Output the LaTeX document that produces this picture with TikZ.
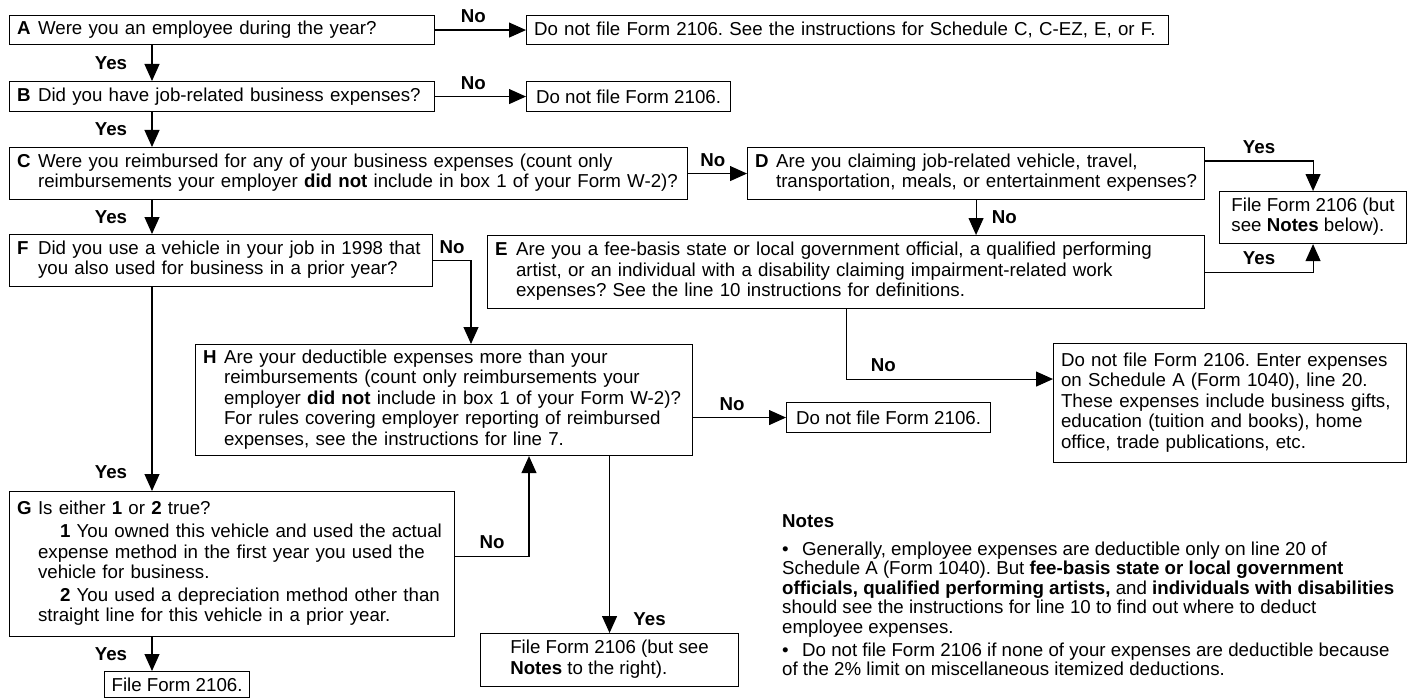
\documentclass[tikz,border=0pt]{standalone}
\usepackage{fontspec}
\setmainfont{Liberation Sans}
\usetikzlibrary{calc,arrows.meta}

\newcommand{\qlet}[1]{\makebox[21pt][l]{\textbf{#1}}}
\newcommand{\qlines}[1]{\begin{tabular}[t]{@{}l@{}}#1\end{tabular}}
\frenchspacing

\begin{document}
\begin{tikzpicture}[x=1pt,y=-1pt]

    \def\qfont{\fontsize{18.7}{20.5}\selectfont}
    \def\nfont{\fontsize{18.7}{19.6}\selectfont}

    \tikzset{
      qbox/.style={draw, line width=1.1pt, anchor=north west, align=left,
        inner xsep=7.5pt, inner ysep=0pt, font=\qfont},
      fbox/.style={draw, line width=1.1pt, anchor=north west, inner sep=0pt, font=\qfont},
      arr/.style={line width=1.1pt, -{Triangle[length=17pt,width=15pt]}},
      lbl/.style={font=\qfont\bfseries}
    }

    \useasboundingbox (0,0) rectangle (1411,698);
    \coordinate (xl) at (152,0);

    \node[qbox, text width=410pt, minimum height=29pt] (A) at (9,15)
      {\qlet{A}Were you an employee during the year?};
    \node[qbox, text width=627pt, minimum height=29pt] (A1) at (526,15)
      {Do not file Form 2106. See the instructions for Schedule C, C-EZ, E, or F.};
    \node[qbox, text width=410pt, minimum height=30pt] (B) at (9,81)
      {\qlet{B}Did you have job-related business expenses?};
    \node[fbox, minimum width=204pt, minimum height=30pt] (B1) at (526,81)
      {Do not file Form 2106.};
    \node[qbox, text width=663pt, minimum height=52pt] (C) at (9,147)
      {\qlet{C}\qlines{Were you reimbursed for any of your business expenses (count only\\
        reimbursements your employer \textbf{did not} include in box 1 of your Form W-2)?}};
    \node[qbox, text width=442pt, minimum height=52pt] (D) at (747,147)
      {\qlet{D}\qlines{Are you claiming job-related vehicle, travel,\\
        transportation, meals, or entertainment expenses?}};
    \node[fbox, minimum width=187pt, minimum height=52pt] (FF1) at (1219,191)
      {\qlines{File Form 2106 (but\\see \textbf{Notes} below).}};
    \node[qbox, text width=408pt, minimum height=52pt] (F) at (9,234)
      {\qlet{F}\qlines{Did you use a vehicle in your job in 1998 that\\
        you also used for business in a prior year?}};
    \node[qbox, text width=702pt, minimum height=73pt] (E) at (487,235)
      {\qlet{E}\qlines{Are you a fee-basis state or local government official, a qualified performing\\
        artist, or an individual with a disability claiming impairment-related work\\
        expenses? See the line 10 instructions for definitions.}};
    \node[qbox, text width=482pt, minimum height=111pt] (H) at (195,344)
      {\qlet{H}\qlines{Are your deductible expenses more than your\\
        reimbursements (count only reimbursements your\\
        employer \textbf{did not} include in box 1 of your Form W-2)?\\
        For rules covering employer reporting of reimbursed\\
        expenses, see the instructions for line 7.}};
    \node[fbox, minimum width=204pt, minimum height=30pt] (H1) at (786,402)
      {Do not file Form 2106.};
    \node[qbox, text width=338pt, minimum height=119pt] (NF) at (1053,343)
      {\qlines{Do not file Form 2106. Enter expenses\\
        on Schedule A (Form 1040), line 20.\\
        These expenses include business gifts,\\
        education (tuition and books), home\\
        office, trade publications, etc.}};
    \node[qbox, text width=430pt, minimum height=145pt] (G) at (9,491)
      {\qlet{G}\qlines{Is either \textbf{1} or \textbf{2} true?\\[3pt]
        \hspace*{22pt}\textbf{1} You owned this vehicle and used the actual\\
        expense method in the first year you used the\\
        vehicle for business.\\[2pt]
        \hspace*{22pt}\textbf{2} You used a depreciation method other than\\
        straight line for this vehicle in a prior year.}};
    \node[fbox, minimum width=258pt, minimum height=53pt] (FF2) at (480,633)
      {\qlines{File Form 2106 (but see\\\textbf{Notes} to the right).}};
    \node[fbox, minimum width=145pt, minimum height=26pt] (FF3) at (104,671)
      {File Form 2106.};

    \node[anchor=base west, inner sep=0pt, font=\nfont] (notes) at (782,527)
      {\qlines{\textbf{Notes}\\[8.5pt]
        \makebox[20pt][l]{•}Generally, employee expenses are deductible only on line 20 of\\
        Schedule A (Form 1040). But \textbf{fee-basis state or local government}\\
        \textbf{officials, qualified performing artists,} and \textbf{individuals with disabilities}\\
        should see the instructions for line 10 to find out where to deduct\\
        employee expenses.\\[3pt]
        \makebox[20pt][l]{•}Do not file Form 2106 if none of your expenses are deductible because\\
        of the 2\% limit on miscellaneous itemized deductions.}};

    \foreach \a/\b in {A/A1, B/B1, C/D}{
      \draw[arr] (\a) -- (\b) node[lbl, pos=.42, above=3pt]{No};
    }
    \foreach \a/\b in {A/B, B/C, C/F, G/FF3}{
      \draw[arr] (\a.south -| xl) -- (\b.north -| xl) node[lbl, midway, left=21pt]{Yes};
    }
    \draw[arr] (F.south -| xl) -- (G.north -| xl) node[lbl, pos=.91, left=21pt]{Yes};

    \draw[arr] ($(D.north east)+(0,14)$) -| (FF1) node[lbl, pos=.25, above=3pt]{Yes};
    \draw[arr] (E) -| (FF1) node[lbl, pos=.25, above=3pt]{Yes};
    \draw[arr] (D.south) -- (D.south |- E.north) node[lbl, midway, right=12pt]{No};
    \draw[arr] (E.south) |- ($(NF.west)+(0,-24)$) node[lbl, pos=.59, above=3pt]{No};
    \draw[arr] (F.east) -| ($(H.north west)+(276,0)$) node[lbl, pos=.25, above=3pt]{No};
    \draw[arr] (H.east |- H1) -- (H1) node[lbl, pos=.42, above=3pt]{No};
    \draw[arr] ($(G.east)+(0,-8)$) -| ($(H.south west)+(334,0)$) node[lbl, pos=.25, above=3pt]{No};
    \draw[arr] (H.south -| FF2) -- (FF2) node[lbl, pos=.92, right=20pt]{Yes};

\end{tikzpicture}
\end{document}
